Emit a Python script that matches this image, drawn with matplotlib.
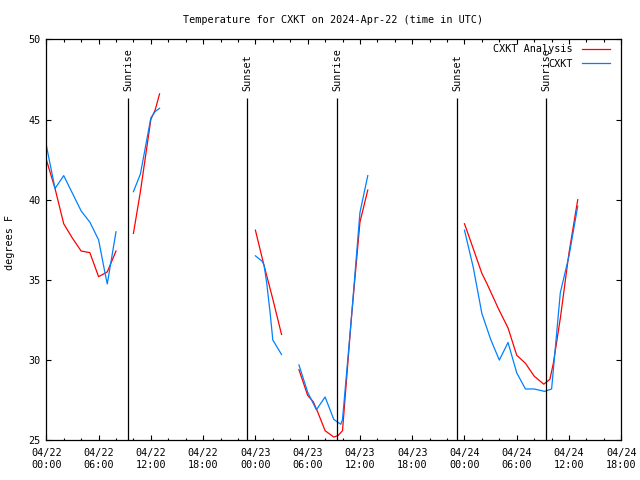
import numpy as np
import matplotlib
matplotlib.use('Agg')
import matplotlib.pyplot as plt

# hours since 2024-04-22 00:00 UTC; None breaks the line
analysis_hours = [0, 1, 2, 3, 4, 5, 6, 7, 8, None,
                  10, 10.8, 12, 12.5, 13, None,
                  24, 24.9, 26, 27, None,
                  29, 30, 30.65, 31.2, 32, 33, 33.5, 34, 35, 36, 36.9, None,
                  48, 48.65, 50, 50.55, 51.9, 53, 54, 55, 56, 57.1, 57.8, 58.2, 59, 60, 61]
analysis_temps = [42.5, 40.7, 38.5, 37.6, 36.8, 36.7, 35.2, 35.5, 36.8, None,
                  37.9, 40.5, 45.0, 45.6, 46.6, None,
                  38.1, 36.1, 33.8, 31.6, None,
                  29.4, 27.8, 27.4, 26.7, 25.6, 25.2, 25.3, 25.6, 32.5, 38.6, 40.6, None,
                  38.5, 37.5, 35.4, 34.8, 33.2, 32.0, 30.3, 29.8, 29.0, 28.5, 28.8, 29.8, 32.6, 36.7, 40.0]

obs_hours = [0, 1, 2, 3, 4, 5, 6, 6.75, 7, 8, None,
             10, 10.8, 12, 12.5, 13, None,
             24, 24.8, 25, 25.3, 25.7, 26, 27, None,
             29, 30, 31, 32, 33, 33.8, 34, 35, 36, 36.9, None,
             48, 49, 50, 51, 52, 53, 54, 55, 56, 57.2, 58, 59, 60, 61]
obs_temps = [43.4, 40.7, 41.5, 40.4, 39.3, 38.6, 37.5, 35.4, 34.75, 38.0, None,
             40.5, 41.6, 45.1, 45.5, 45.7, None,
             36.5, 36.15, 35.9, 34.8, 32.9, 31.25, 30.35, None,
             29.7, 28.0, 26.9, 27.7, 26.3, 26.0, 26.3, 32.5, 39.2, 41.5, None,
             38.1, 35.8, 32.9, 31.3, 30.0, 31.1, 29.2, 28.2, 28.2, 28.05, 28.2, 34.2, 36.5, 39.6]

sun_hours = [9.42, 23.08, 33.42, 47.19, 57.4]
sun_labels = ['Sunrise', 'Sunset', 'Sunrise', 'Sunset', 'Sunrise']

tick_hours = [0, 6, 12, 18, 24, 30, 36, 42, 48, 54, 60, 66]
tick_labels = ['04/22\n00:00', '04/22\n06:00', '04/22\n12:00', '04/22\n18:00',
               '04/23\n00:00', '04/23\n06:00', '04/23\n12:00', '04/23\n18:00',
               '04/24\n00:00', '04/24\n06:00', '04/24\n12:00', '04/24\n18:00']


def to_arr(vals):
    return np.array([np.nan if v is None else v for v in vals], dtype=float)


plt.rcParams['font.family'] = 'DejaVu Sans Mono'
plt.rcParams['font.size'] = 7.3

fig = plt.figure(figsize=(6.4, 4.8), dpi=100)
ax = fig.add_axes([46.3 / 640, 1 - 440.3 / 480, 575 / 640, 401 / 480])

ax.plot(to_arr(analysis_hours), to_arr(analysis_temps), color='#ff0000', lw=0.9, label='CXKT Analysis')
ax.plot(to_arr(obs_hours), to_arr(obs_temps), color='#0080ff', lw=0.9, label='CXKT')

for h, lab in zip(sun_hours, sun_labels):
    ax.vlines(h, 25, 46.31, color='black', lw=0.9)
    ax.text(h, 46.75, lab, rotation=90, ha='center', va='bottom')

ax.set_xlim(0, 66)
ax.set_ylim(25, 50)
ax.set_xticks(tick_hours)
ax.set_xticklabels(tick_labels)
ax.set_xticks(np.arange(0, 67, 2), minor=True)
ax.set_yticks([25, 30, 35, 40, 45, 50])

ax.tick_params(which='major', direction='in', top=True, right=True, length=3.3, width=0.8, pad=4.3)
ax.tick_params(which='minor', direction='in', top=True, right=True, length=1.8, width=0.8)
ax.tick_params(axis='x', which='major', pad=5.5)
for s in ax.spines.values():
    s.set_linewidth(0.9)

fig.text(333 / 640, 1 - 20 / 480, 'Temperature for CXKT on 2024-Apr-22 (time in UTC)', ha='center', va='center')
fig.text(10 / 640, 1 - 242 / 480, 'degrees F', rotation=90, ha='center', va='center')

ax.legend(loc='upper right', bbox_to_anchor=(0.981, 0.988), frameon=False, markerfirst=False,
          handlelength=2.8, handletextpad=0.9, labelspacing=0.45, borderpad=0, borderaxespad=0)

fig.savefig('out.png', dpi=100)
